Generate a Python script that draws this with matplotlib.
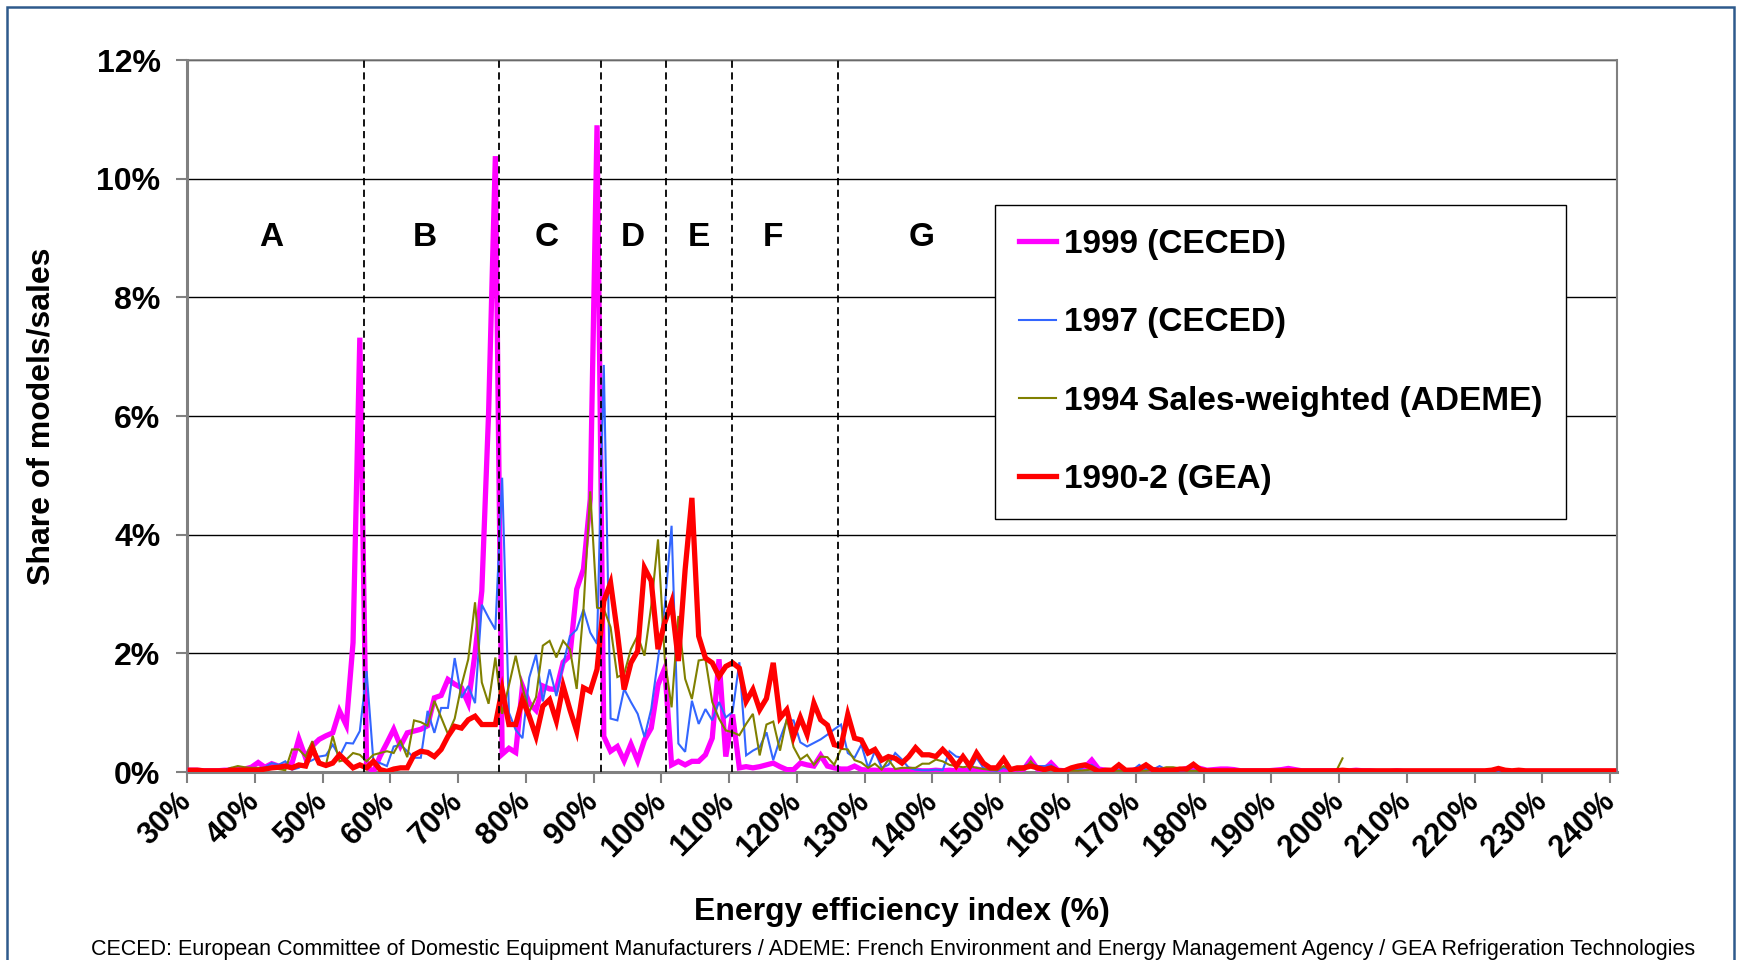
import numpy as np
import matplotlib
matplotlib.use("Agg")
import matplotlib.pyplot as plt
from matplotlib.patches import Rectangle
from matplotlib.transforms import ScaledTranslation

plt.rcParams['font.family'] = ['Liberation Sans', 'DejaVu Sans']

# energy efficiency index classes, 30% .. 240% in 1% steps
eei = np.arange(30, 241)

share_1999 = [
    0.03, 0.03, 0.02, 0.02, 0.02, 0.03, 0.03, 0.04, 0.05, 0.08,
    0.16, 0.08, 0.14, 0.10, 0.10, 0.15, 0.56, 0.24, 0.44, 0.55,
    0.61, 0.66, 1.03, 0.79, 2.18, 7.32, 0.10, 0.00, 0.27, 0.49,
    0.72, 0.44, 0.66, 0.69, 0.72, 0.78, 1.25, 1.29, 1.56, 1.48,
    1.42, 1.16, 2.00, 3.05, 6.05, 10.38, 0.30, 0.40, 0.33, 1.45,
    1.16, 1.04, 1.45, 1.40, 1.39, 1.85, 1.96, 3.08, 3.42, 4.60,
    10.90, 0.60, 0.35, 0.43, 0.19, 0.47, 0.19, 0.54, 0.74, 1.47,
    1.75, 0.12, 0.18, 0.12, 0.18, 0.18, 0.29, 0.57, 1.90, 0.26,
    0.97, 0.07, 0.09, 0.07, 0.09, 0.12, 0.15, 0.09, 0.04, 0.04,
    0.15, 0.12, 0.10, 0.28, 0.10, 0.07, 0.05, 0.05, 0.10, 0.04,
    0.03, 0.03, 0.02, 0.03, 0.02, 0.03, 0.05, 0.03, 0.02, 0.02,
    0.03, 0.02, 0.03, 0.02, 0.03, 0.02, 0.05, 0.03, 0.02, 0.03,
    0.02, 0.03, 0.02, 0.05, 0.21, 0.05, 0.04, 0.15, 0.03, 0.02,
    0.03, 0.04, 0.08, 0.20, 0.05, 0.03, 0.02, 0.02, 0.02, 0.03,
    0.02, 0.02, 0.03, 0.02, 0.02, 0.02, 0.03, 0.06, 0.08, 0.06,
    0.03, 0.04, 0.05, 0.05, 0.04, 0.02, 0.02, 0.02, 0.02, 0.02,
    0.03, 0.04, 0.06, 0.04, 0.02, 0.02, 0.02, 0.02, 0.02, 0.02,
    0.02, 0.02, 0.03, 0.02, 0.02, 0.01, 0.01, 0.01, 0.02, 0.01,
    0.01, 0.01, 0.01, 0.01, 0.01, 0.01, 0.01, 0.01, 0.01, 0.01,
    0.01, 0.01, 0.01, 0.01, 0.01, 0.01, 0.01, 0.01, 0.01, 0.01,
    0.01, 0.01, 0.01, 0.01, 0.01, 0.01, 0.01, 0.01, 0.01, 0.01,
    0.01,
]

share_1997 = [
    0.00, 0.00, 0.01, 0.02, 0.02, 0.03, 0.07, 0.05, 0.04, 0.07,
    0.05, 0.08, 0.15, 0.12, 0.18, 0.04, 0.07, 0.15, 0.20, 0.26,
    0.28, 0.46, 0.26, 0.49, 0.48, 0.69, 1.70, 0.18, 0.15, 0.10,
    0.43, 0.46, 0.35, 0.24, 0.24, 1.03, 0.66, 1.08, 1.08, 1.92,
    1.25, 1.45, 1.16, 2.82, 2.60, 2.40, 4.96, 1.00, 0.71, 0.57,
    1.59, 1.98, 1.19, 1.73, 1.28, 1.81, 2.29, 2.40, 2.74, 2.35,
    2.16, 6.86, 0.90, 0.87, 1.40, 1.18, 0.98, 0.59, 1.06, 1.90,
    2.80, 4.15, 0.48, 0.34, 1.20, 0.81, 1.06, 0.87, 1.18, 0.92,
    1.01, 1.85, 0.28, 0.36, 0.42, 0.67, 0.20, 0.56, 0.87, 0.87,
    0.50, 0.43, 0.49, 0.55, 0.63, 0.72, 0.80, 0.32, 0.24, 0.46,
    0.07, 0.35, 0.07, 0.12, 0.32, 0.21, 0.07, 0.04, 0.03, 0.03,
    0.04, 0.03, 0.35, 0.26, 0.24, 0.03, 0.24, 0.07, 0.03, 0.02,
    0.07, 0.03, 0.05, 0.10, 0.15, 0.10, 0.10, 0.12, 0.03, 0.02,
    0.05, 0.03, 0.10, 0.12, 0.03, 0.02, 0.02, 0.03, 0.02, 0.03,
    0.12, 0.04, 0.04, 0.10, 0.04, 0.05, 0.02, 0.02, 0.02, 0.02,
    0.02, 0.02, 0.02, 0.02, 0.02, 0.02, 0.02, 0.02, 0.02, 0.02,
    0.02, 0.03, 0.05, 0.03, 0.02, 0.02, 0.02, 0.02, 0.02, 0.02,
    0.01, 0.01, 0.01, 0.01, 0.01, 0.01, 0.01, 0.01, 0.01, 0.01,
    0.01, 0.01, 0.01, 0.01, 0.01, 0.01, 0.01, 0.01, 0.01, 0.01,
    0.01, 0.01, 0.01, 0.01, 0.01, 0.01, 0.01, 0.01, 0.01, 0.01,
    0.01, 0.01, 0.01, 0.01, 0.01, 0.01, 0.01, 0.01, 0.01, 0.01,
    0.01,
]

# 1994 series stops at 200%
share_1994 = [
    0.00, 0.00, 0.00, 0.01, 0.02, 0.03, 0.07, 0.10, 0.08, 0.07,
    0.07, 0.07, 0.06, 0.05, 0.03, 0.38, 0.38, 0.26, 0.52, 0.15,
    0.12, 0.61, 0.18, 0.21, 0.32, 0.29, 0.18, 0.29, 0.32, 0.35,
    0.32, 0.53, 0.25, 0.87, 0.84, 0.78, 1.20, 0.92, 0.64, 0.90,
    1.46, 1.90, 2.86, 1.51, 1.15, 1.93, 0.98, 1.46, 1.96, 1.43,
    1.01, 1.26, 2.13, 2.21, 1.93, 2.21, 2.07, 1.40, 2.74, 4.73,
    2.77, 2.75, 2.44, 1.60, 1.65, 2.07, 2.30, 1.96, 2.80, 3.92,
    1.90, 1.09, 2.63, 1.57, 1.23, 1.88, 1.90, 1.18, 0.90, 0.70,
    0.67, 0.62, 0.81, 0.98, 0.28, 0.80, 0.85, 0.36, 0.90, 0.42,
    0.21, 0.29, 0.12, 0.26, 0.25, 0.12, 0.39, 0.38, 0.20, 0.16,
    0.07, 0.14, 0.04, 0.21, 0.05, 0.07, 0.07, 0.07, 0.14, 0.14,
    0.21, 0.18, 0.12, 0.10, 0.08, 0.10, 0.07, 0.05, 0.04, 0.03,
    0.10, 0.04, 0.03, 0.04, 0.18, 0.04, 0.03, 0.04, 0.03, 0.02,
    0.02, 0.02, 0.03, 0.04, 0.02, 0.02, 0.02, 0.02, 0.02, 0.02,
    0.02, 0.02, 0.03, 0.05, 0.08, 0.08, 0.06, 0.02, 0.02, 0.02,
    0.02, 0.02, 0.01, 0.01, 0.01, 0.01, 0.01, 0.01, 0.01, 0.01,
    0.02, 0.03, 0.04, 0.02, 0.01, 0.01, 0.01, 0.01, 0.00, 0.00,
    0.23,
]

share_1990 = [
    0.03, 0.03, 0.02, 0.02, 0.02, 0.02, 0.03, 0.03, 0.03, 0.03,
    0.03, 0.05, 0.07, 0.08, 0.10, 0.07, 0.12, 0.10, 0.40, 0.15,
    0.11, 0.15, 0.29, 0.18, 0.07, 0.12, 0.07, 0.18, 0.04, 0.01,
    0.05, 0.07, 0.07, 0.29, 0.35, 0.33, 0.26, 0.38, 0.60, 0.77,
    0.74, 0.88, 0.94, 0.80, 0.80, 0.80, 1.39, 0.80, 0.80, 1.22,
    0.94, 0.60, 1.11, 1.22, 0.86, 1.45, 1.05, 0.69, 1.42, 1.36,
    1.73, 2.88, 3.19, 2.35, 1.39, 1.84, 2.04, 3.44, 3.22, 2.07,
    2.52, 2.86, 1.87, 3.41, 4.62, 2.29, 1.92, 1.84, 1.61, 1.78,
    1.84, 1.75, 1.19, 1.39, 1.05, 1.24, 1.84, 0.91, 1.05, 0.60,
    0.92, 0.63, 1.16, 0.88, 0.79, 0.46, 0.43, 0.97, 0.57, 0.54,
    0.32, 0.38, 0.20, 0.26, 0.23, 0.15, 0.26, 0.41, 0.29, 0.29,
    0.26, 0.38, 0.26, 0.10, 0.26, 0.10, 0.32, 0.15, 0.07, 0.07,
    0.22, 0.04, 0.07, 0.07, 0.10, 0.07, 0.04, 0.07, 0.02, 0.02,
    0.07, 0.10, 0.12, 0.07, 0.01, 0.03, 0.03, 0.12, 0.03, 0.03,
    0.05, 0.12, 0.04, 0.03, 0.03, 0.03, 0.05, 0.05, 0.13, 0.04,
    0.02, 0.02, 0.02, 0.02, 0.02, 0.02, 0.02, 0.02, 0.02, 0.02,
    0.02, 0.02, 0.02, 0.02, 0.02, 0.02, 0.02, 0.02, 0.02, 0.02,
    0.03, 0.02, 0.02, 0.02, 0.02, 0.02, 0.02, 0.02, 0.02, 0.02,
    0.02, 0.02, 0.02, 0.02, 0.02, 0.02, 0.02, 0.02, 0.02, 0.02,
    0.02, 0.02, 0.03, 0.06, 0.03, 0.02, 0.03, 0.02, 0.02, 0.02,
    0.02, 0.02, 0.02, 0.02, 0.02, 0.02, 0.02, 0.02, 0.02, 0.02,
    0.02,
]

series_labels = ['1999 (CECED)', '1997 (CECED)', '1994 Sales-weighted (ADEME)', '1990-2 (GEA)']
series_colors = ['#FF00FF', '#3366FF', '#808000', '#FF0000']
series_widths = [3.8, 1.5, 1.5, 3.8]

# energy label class boundaries and class names
class_bounds = [56.15, 76.1, 91.1, 100.7, 110.4, 126.0]
class_names = ['A', 'B', 'C', 'D', 'E', 'F', 'G']
class_label_x = [42.5, 65.1, 83.0, 95.8, 105.6, 116.4, 138.4]

footer = ("CECED: European Committee of Domestic Equipment Manufacturers / "
          "ADEME: French Environment and Energy Management Agency / "
          "GEA Refrigeration Technologies")

W, H = 1737, 960
fig = plt.figure(figsize=(W / 100, H / 100), dpi=100)
ax = fig.add_axes([187 / W, 1 - 772 / H, 1430 / W, 712 / H])

all_series = [share_1999, share_1997, share_1994, share_1990]
handles = []
for vals, lab, col, lw in zip(all_series, series_labels, series_colors, series_widths):
    xs = eei[:len(vals)] + 0.5
    h, = ax.plot(xs, vals, color=col, lw=lw, label=lab, zorder=3,
                 solid_joinstyle='miter')
    handles.append(h)

for b in class_bounds:
    ax.axvline(b, color='black', lw=1.3, ls=(0, (4, 2.5)), zorder=5)

for name, xc in zip(class_names, class_label_x):
    ax.text(xc, 9.0, name, ha='center', va='center', fontsize=24,
            fontweight='bold', zorder=6)

ax.set_xlim(30, 241)
ax.set_ylim(0, 12)
ax.set_yticks(np.arange(0, 13, 2))
ax.set_yticklabels([f"{v}%" for v in range(0, 13, 2)], fontsize=23, fontweight='bold')
ax.set_xticks(np.arange(30, 241, 10))
ax.set_xticklabels([f"{v}%" for v in range(30, 241, 10)], fontsize=22,
                   fontweight='bold', rotation=45, ha='right', va='center',
                   rotation_mode='anchor')
shift = ScaledTranslation(-7 / 100, 0, fig.dpi_scale_trans)
for lbl in ax.get_xticklabels():
    lbl.set_transform(lbl.get_transform() + shift)
ax.tick_params(axis='both', direction='out', length=8, width=1.5, color='#808080')
ax.tick_params(axis='x', pad=10)
ax.tick_params(axis='y', pad=11)

ax.grid(axis='y', color='black', lw=1.0, zorder=1)
ax.set_axisbelow(True)
for side in ['left', 'bottom']:
    ax.spines[side].set_color('#808080')
    ax.spines[side].set_linewidth(2.2)
ax.spines['right'].set_color('#808080')
ax.spines['right'].set_linewidth(1.5)
ax.spines['top'].set_color('#808080')
ax.spines['top'].set_linewidth(1.2)

ax.set_ylabel('Share of models/sales', fontsize=23, fontweight='bold', va='center')
ax.yaxis.set_label_coords(-0.1015, 0.5)
ax.set_xlabel('Energy efficiency index (%)', fontsize=23, fontweight='bold', va='center')
ax.xaxis.set_label_coords(0.5, -0.196)

leg = ax.legend(handles=handles, loc='upper left',
                bbox_to_anchor=(995 / W, 1 - 205 / H), bbox_transform=fig.transFigure,
                prop={'size': 24, 'weight': 'bold'}, frameon=True, fancybox=False,
                edgecolor='black', framealpha=1, borderpad=0.72, labelspacing=1.42,
                handlelength=1.1, handletextpad=0.25, borderaxespad=0)
leg.get_frame().set_linewidth(1.0)
leg.set_zorder(7)

fig.text(893 / W, 1 - 949 / H, footer, ha='center', va='center', fontsize=15.5,
         family=['Liberation Sans Narrow', 'Liberation Sans', 'DejaVu Sans'])

fig.patches.append(Rectangle((7 / W, -0.02), (1734 - 7) / W, 1.02 - 7 / H,
                             transform=fig.transFigure, fill=False,
                             edgecolor='#2E5A8C', lw=1.8))

fig.savefig('out.png', dpi=100)
